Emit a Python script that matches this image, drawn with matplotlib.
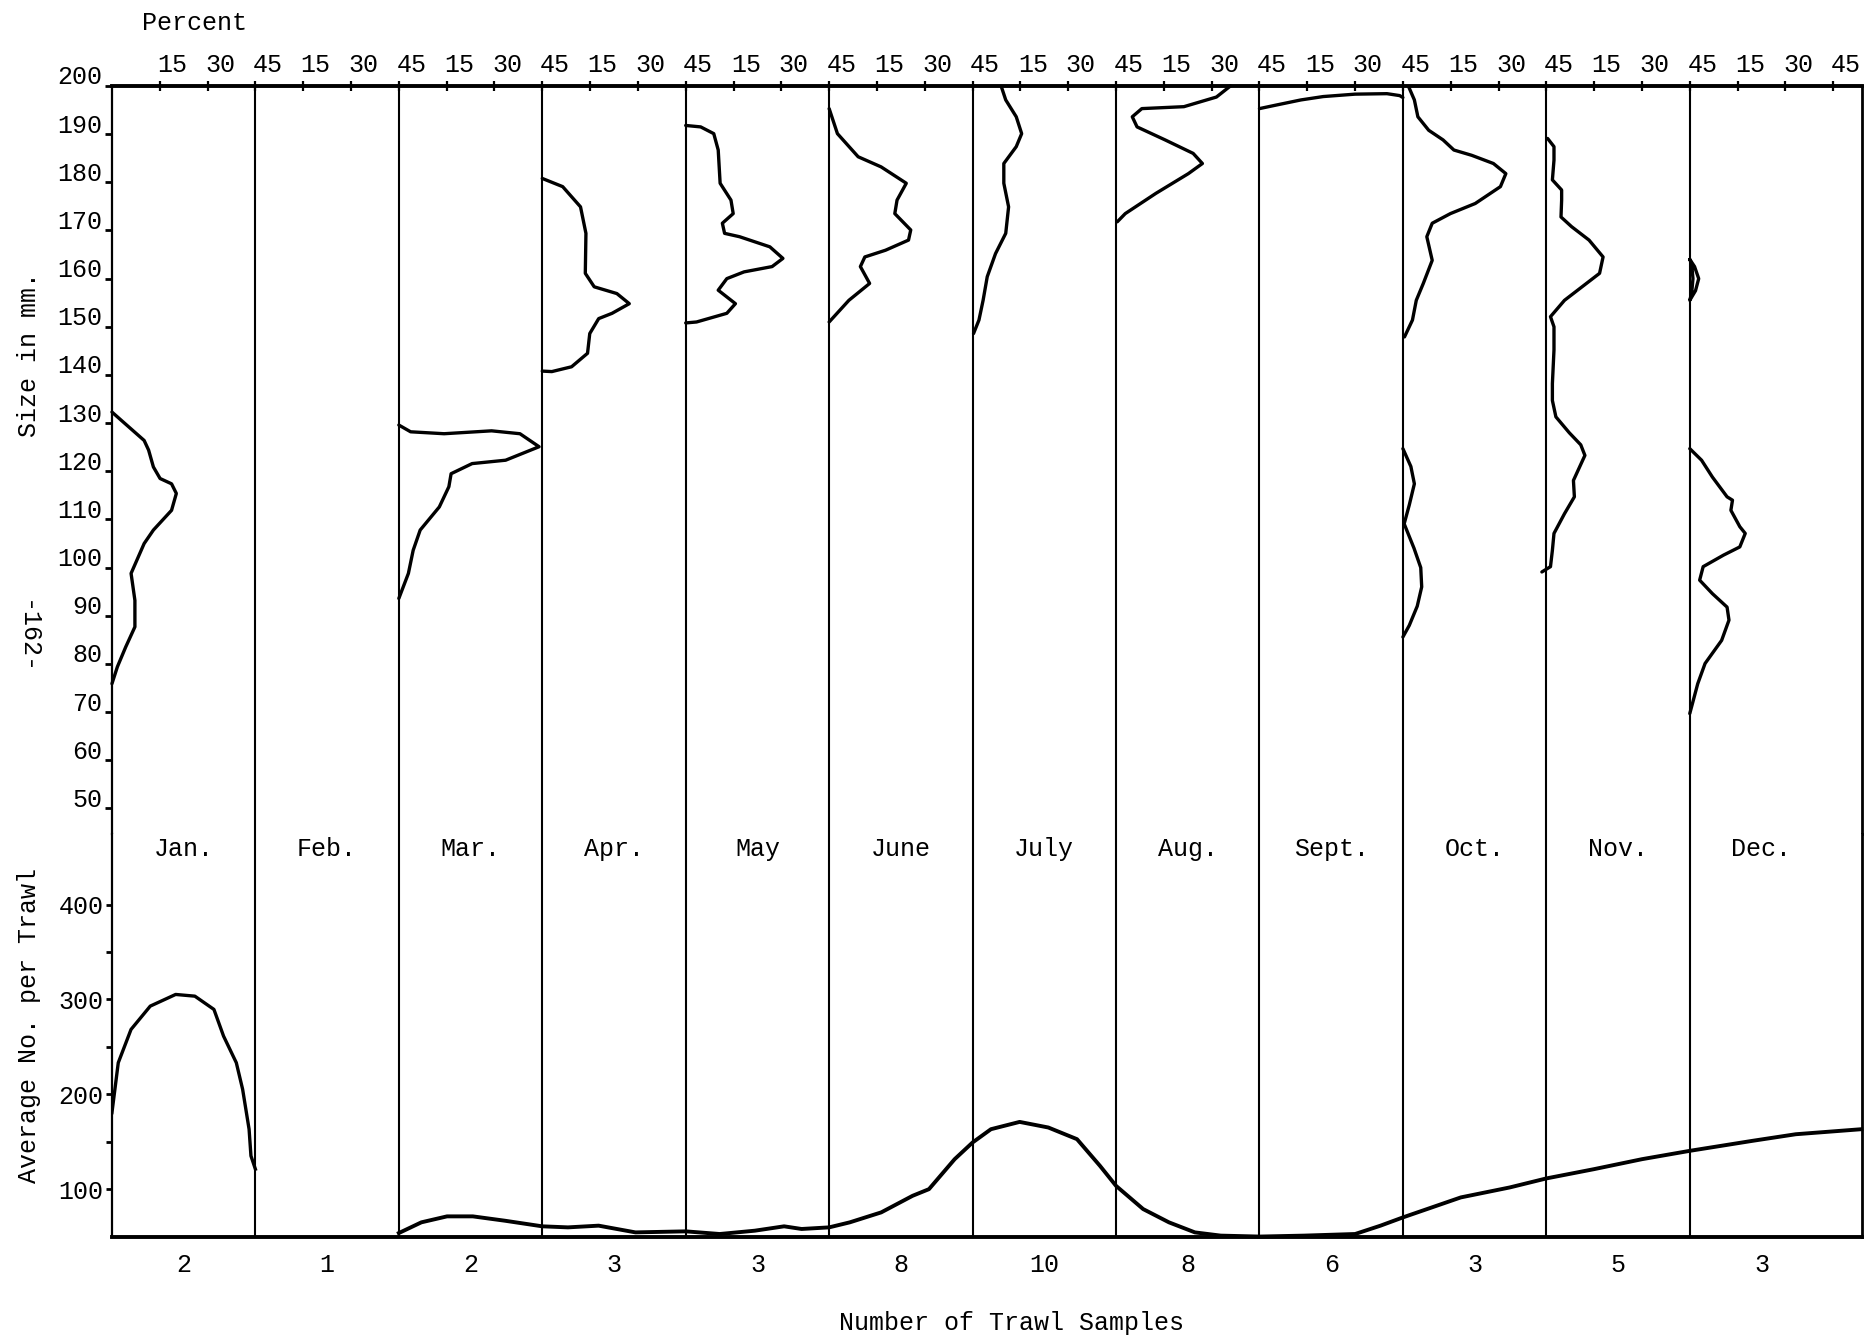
import matplotlib
matplotlib.use("Agg")
import matplotlib.pyplot as plt
from matplotlib.transforms import ScaledTranslation

# ---------------- data ----------------
months = ["Jan.", "Feb.", "Mar.", "Apr.", "May", "June", "July", "Aug.",
          "Sept.", "Oct.", "Nov.", "Dec."]
trawl_samples = [2, 1, 2, 3, 3, 8, 10, 8, 6, 3, 5, 3]
size_ticks = [50, 60, 70, 80, 90, 100, 110, 120, 130, 140, 150, 160, 170, 180, 190, 200]
pct_tick_labels = ["15", "30", "45"]
avg_ticks_major = [100, 200, 300, 400]
avg_ticks_minor = [150, 250, 350]

# size-frequency curves: size (mm) and percent within each month
jan_size = [132.3, 130.6, 126.4, 124.4, 120.9, 118.5, 117.4, 115.4, 111.9, 107.8, 105.0,
            98.8, 93.2, 87.7, 83.5, 79.4, 75.9]
jan_pct = [0, 2.9, 10.1, 11.5, 13.0, 15.1, 18.7, 20.2, 18.7, 13.0, 10.1, 6.0, 7.2, 7.2,
           4.3, 1.7, 0]

mar_size = [129.6, 128.2, 127.8, 128.4, 127.8, 125.1, 122.3, 121.6, 119.5, 116.8, 112.6,
            107.8, 103.6, 98.8, 93.6]
mar_pct = [0, 3.7, 14.2, 29.1, 38.0, 44.0, 33.5, 23.0, 16.4, 15.7, 12.7, 6.7, 4.5, 3.0, 0]

apr_size = [180.8, 179.1, 174.9, 169.4, 161.1, 158.3, 156.9, 154.8, 152.8, 151.7, 148.6,
            144.5, 141.7, 140.7, 140.8]
apr_pct = [0, 6.4, 12.0, 13.7, 13.5, 16.3, 23.4, 27.3, 21.9, 17.7, 14.9, 14.2, 9.2, 3.0, 0]

may_size = [191.8, 191.5, 190.1, 186.7, 179.8, 176.3, 173.5, 171.5, 169.4, 168.7, 166.6,
            164.2, 162.5, 161.4, 160.0, 157.6, 154.8, 152.8, 151.0, 150.8]
may_pct = [0, 4.7, 8.8, 10.2, 10.8, 14.2, 14.9, 11.5, 12.2, 16.9, 26.4, 30.5, 27.1, 18.3,
           12.9, 10.2, 15.6, 12.9, 3.4, 0]

jun_size = [195.3, 190.1, 185.3, 183.2, 179.8, 176.3, 173.5, 170.1, 168.0, 165.9, 164.5,
            162.5, 159.0, 155.5, 151.0]
jun_pct = [0, 2.6, 9.1, 16.3, 24.2, 21.3, 20.6, 25.6, 24.9, 17.7, 11.2, 9.8, 12.7, 6.2, 0]

jul_size = [199.7, 197.1, 193.6, 190.1, 187.4, 183.9, 179.8, 174.9, 169.4, 165.2, 160.4,
            155.5, 151.4, 148.6]
jul_pct = [9.1, 10.4, 13.7, 15.4, 13.7, 9.8, 9.8, 11.3, 10.4, 7.2, 4.6, 3.3, 2.0, 0.3]

aug_size = [200.0, 197.7, 195.7, 195.3, 193.6, 191.5, 188.8, 186.0, 183.9, 181.8, 177.7,
            173.5, 171.8]
aug_pct = [35.9, 31.5, 21.3, 8.1, 5.1, 6.6, 15.4, 24.2, 27.1, 22.7, 12.5, 2.9, 0.4]

sep_size = [195.3, 196.0, 197.1, 197.8, 198.3, 198.4, 198.0, 197.6]
sep_pct = [0, 5, 13, 20, 30, 40, 44, 45]

oct_size = [199.7, 197.1, 193.6, 190.8, 188.8, 186.7, 185.6, 183.9, 181.8, 179.1, 175.6,
            173.5, 171.5, 168.7, 163.8, 159.0, 155.5, 151.4, 147.9]
oct_pct = [1.9, 3.6, 4.7, 8.1, 12.6, 16.0, 21.6, 28.4, 32.3, 30.6, 22.7, 14.9, 9.2, 7.5,
           9.2, 6.4, 4.2, 3.0, 0.5]
oct_low_size = [124.7, 121.0, 117.4, 113.0, 109.1, 104.0, 100.0, 96.0, 92.0, 88.0, 85.6]
oct_low_pct = [0, 2.5, 3.6, 2.0, 0.4, 3.5, 5.6, 5.9, 4.5, 2.0, 0]

nov_size = [189.1, 187.4, 184.6, 180.5, 178.4, 176.3, 172.8, 170.8, 168.0, 164.5, 161.1,
            158.3, 155.5, 152.1, 150.0, 145.2, 138.2, 134.7, 131.3, 128.0, 125.5, 123.3,
            118.1, 114.7, 111.2, 107.1, 103.6, 100.2, 99.1]
nov_pct = [0.4, 2.4, 2.4, 1.9, 4.8, 4.8, 4.6, 7.9, 13.4, 17.8, 16.7, 11.2, 5.7, 1.3, 2.4,
           2.4, 1.9, 1.9, 3.0, 7.2, 10.8, 12.1, 8.5, 8.8, 5.7, 2.4, 1.9, 1.3, -1.4]

dec_loop_size = [164.0, 162.5, 160.0, 157.5, 155.5, 157.0, 160.0, 163.0, 164.0]
dec_loop_pct = [0, 1.5, 2.8, 1.8, 0, 0.6, 1.0, 0.6, 0]
dec_size = [124.7, 122.3, 118.8, 114.7, 114.0, 111.9, 108.5, 107.1, 104.3, 102.6, 100.2,
            97.4, 94.6, 91.8, 89.1, 84.9, 80.1, 75.9, 69.7]
dec_pct = [0, 3.7, 7.1, 11.7, 13.4, 12.9, 15.7, 17.4, 15.7, 10.6, 4.2, 3.1, 7.1, 11.7,
           12.3, 10.0, 4.8, 2.5, 0]

# average number per trawl (position in months from start of Jan.)
jan_trawl_pos = [0.0, 0.044, 0.133, 0.267, 0.444, 0.578, 0.711, 0.778, 0.867, 0.911,
                 0.956, 0.969, 1.0]
jan_trawl_val = [180.7, 233.3, 268.4, 293.0, 305.3, 303.5, 289.5, 261.4, 233.3, 205.3,
                 163.2, 135.1, 121.1]
trawl_pos = [2.0, 2.157, 2.336, 2.516, 2.740, 3.0, 3.179, 3.393, 3.650, 4.0, 4.237, 4.482,
             4.686, 4.808, 5.0, 5.144, 5.363, 5.582, 5.696, 5.875, 6.0, 6.128, 6.328,
             6.528, 6.728, 6.888, 7.0, 7.189, 7.369, 7.550, 7.730, 8.0, 8.311, 8.667,
             8.844, 9.0, 9.404, 9.745, 10.0, 10.333, 10.667, 11.0, 11.435, 11.739, 12.196]
trawl_val = [53.7, 65.0, 71.3, 71.3, 66.7, 60.8, 59.7, 61.5, 54.4, 55.5, 52.7, 56.2, 60.8,
             58.0, 59.7, 65.0, 75.5, 93.0, 100.0, 131.6, 149.2, 163.2, 170.9, 165.0,
             152.7, 124.6, 103.5, 79.0, 65.0, 54.4, 51.0, 50.0, 51.0, 52.7, 61.5, 70.2,
             91.3, 101.8, 111.3, 121.1, 131.6, 140.4, 150.9, 157.9, 163.2]

# ---------------- drawing ----------------
FONT = ["Liberation Mono", "DejaVu Sans Mono"]
plt.rcParams["font.family"] = FONT
FS = 18
PANEL = 45.0
XMAX = 549.0

fig = plt.figure(figsize=(18.69, 13.39), dpi=100)
fig.patch.set_facecolor("white")

left, width = 0.0599, 0.9363
ax_top = fig.add_axes([left, 0.3768, width, 0.5590])
ax_bot = fig.add_axes([left, 0.0765, width, 0.3003])

for ax in (ax_top, ax_bot):
    ax.set_xlim(0, XMAX)
    for k in range(1, 12):
        ax.axvline(k * PANEL, color="black", lw=1.5, zorder=1)
    ax.spines["left"].set_linewidth(1.6)
    ax.spines["right"].set_linewidth(2.0)

# top (size) panel
ax_top.set_ylim(44.6, 200)
ax_top.spines["bottom"].set_visible(False)
ax_top.spines["top"].set_linewidth(2.8)
ax_top.xaxis.tick_top()
pct_positions = [PANEL * m + 15 * (j + 1) for m in range(12) for j in range(3)]
ax_top.set_xticks(pct_positions)
ax_top.set_xticklabels(pct_tick_labels * 12, fontsize=FS)
ax_top.tick_params(axis="x", direction="inout", length=7, width=1.6, pad=3)
ax_top.set_yticks(size_ticks)
ax_top.set_yticklabels([str(v) for v in size_ticks], fontsize=FS)
ax_top.tick_params(axis="y", direction="out", length=5, width=2, pad=2)

dx = ScaledTranslation(9 / 72, 0, fig.dpi_scale_trans)
for lab in ax_top.get_xticklabels():
    lab.set_transform(lab.get_transform() + dx)
dy = ScaledTranslation(0, 8 / 72, fig.dpi_scale_trans)
for lab in ax_top.get_yticklabels():
    lab.set_transform(lab.get_transform() + dy)

size_curves = [
    (0, jan_size, jan_pct), (2, mar_size, mar_pct), (3, apr_size, apr_pct),
    (4, may_size, may_pct), (5, jun_size, jun_pct), (6, jul_size, jul_pct),
    (7, aug_size, aug_pct), (8, sep_size, sep_pct), (9, oct_size, oct_pct),
    (9, oct_low_size, oct_low_pct), (10, nov_size, nov_pct),
    (11, dec_loop_size, dec_loop_pct), (11, dec_size, dec_pct),
]
for m, sizes, pcts in size_curves:
    xs = [m * PANEL + p for p in pcts]
    ax_top.plot(xs, sizes, color="black", lw=2.4, solid_joinstyle="round",
                solid_capstyle="round", zorder=3, clip_on=False)

# bottom (average number per trawl) panel
ax_bot.set_ylim(50, 474)
ax_bot.spines["top"].set_visible(False)
ax_bot.spines["bottom"].set_linewidth(2.8)
ax_bot.set_yticks(avg_ticks_major)
ax_bot.set_yticklabels([str(v) for v in avg_ticks_major], fontsize=FS)
ax_bot.set_yticks(avg_ticks_minor, minor=True)
ax_bot.tick_params(axis="y", which="both", direction="out", length=4, width=2, pad=2)
centers = [PANEL * m + PANEL / 2 for m in range(12)]
ax_bot.set_xticks(centers)
ax_bot.set_xticklabels([str(n) for n in trawl_samples], fontsize=FS)
ax_bot.tick_params(axis="x", length=0, pad=12)

for m, name in enumerate(months):
    ax_bot.text(centers[m], 459, name, ha="center", va="center", fontsize=FS)

ax_bot.plot([p * PANEL for p in jan_trawl_pos], jan_trawl_val, color="black", lw=2.4,
            solid_joinstyle="round", zorder=3)
ax_bot.plot([p * PANEL for p in trawl_pos], trawl_val, color="black", lw=2.8,
            solid_joinstyle="round", zorder=3, clip_on=False)

# labels
fig.text(0.104, 0.983, "Percent", ha="center", va="center", fontsize=FS)
fig.text(0.0155, 0.735, "Size in mm.", rotation=90, ha="center", va="center", fontsize=FS)
fig.text(0.0155, 0.234, "Average No. per Trawl", rotation=90, ha="center", va="center",
         fontsize=FS)
fig.text(0.0145, 0.524, "-162-", rotation=270, ha="center", va="center", fontsize=FS)
fig.text(0.541, 0.012, "Number of Trawl Samples", ha="center", va="center", fontsize=FS)

fig.savefig("out.png", dpi=100, facecolor="white")
